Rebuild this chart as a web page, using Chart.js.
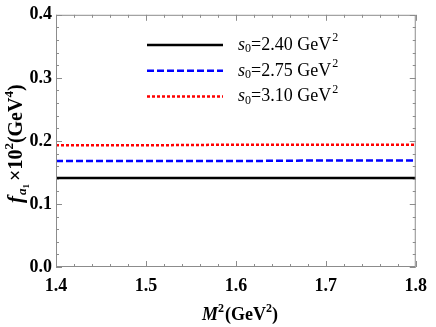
<!DOCTYPE html>
<html>
<head>
<meta charset="utf-8">
<script src="https://cdn.jsdelivr.net/npm/chart.js@4/dist/chart.umd.min.js"></script>
<style>
  html, body { margin: 0; padding: 0; background: #fff; }
  #wrap { width: 436px; height: 327px; }
</style>
</head>
<body>
<div id="wrap"><canvas id="chart" width="436" height="327"></canvas></div>
<script>
// values
var m2 = [1.4, 1.5, 1.6, 1.7, 1.8];
var s240 = [0.141, 0.141, 0.141, 0.141, 0.141];
var s275 = [0.168, 0.168, 0.168, 0.169, 0.169];
var s310 = [0.193, 0.193, 0.194, 0.194, 0.194];
var legendLabels = ["2.40", "2.75", "3.10"];

var SERIF = '"Liberation Serif", "DejaVu Serif", serif';

function pts(ys) {
  return m2.map(function(x, i) { return { x: x, y: ys[i] }; });
}

// draw a run of text pieces, each with its own font and vertical shift
function richText(ctx, x, y, parts) {
  parts.forEach(function(p) {
    ctx.font = p.font;
    ctx.fillText(p.t, x, y + (p.dy || 0));
    x += ctx.measureText(p.t).width + (p.kern || 0);
  });
  return x;
}

var framePlugin = {
  id: "frame",
  afterDatasetsDraw: function(chart) {
    var ctx = chart.ctx, a = chart.chartArea;
    var xs = chart.scales.x, ys = chart.scales.y;
    ctx.save();
    ctx.strokeStyle = "#8c8c8c";
    ctx.lineWidth = 1;
    ctx.strokeRect(a.left + 0.5, a.top + 0.5, a.right - a.left - 1, a.bottom - a.top - 1);

    // ticks pointing inward on all four sides
    ctx.beginPath();
    for (var i = 0; i <= 20; i++) {
      var v = 1.4 + i * 0.02;
      var px = Math.round(xs.getPixelForValue(v)) + 0.5;
      var len = (i % 5 === 0) ? 6 : 3;
      ctx.moveTo(px, a.bottom); ctx.lineTo(px, a.bottom - len);
      ctx.moveTo(px, a.top); ctx.lineTo(px, a.top + len);
    }
    for (var j = 0; j <= 20; j++) {
      var w = j * 0.02;
      var py = Math.round(ys.getPixelForValue(w)) + 0.5;
      var len2 = (j % 5 === 0) ? 6 : 3;
      ctx.moveTo(a.left, py); ctx.lineTo(a.left + len2, py);
      ctx.moveTo(a.right, py); ctx.lineTo(a.right - len2, py);
    }
    ctx.stroke();

    // legend inside the plot
    ctx.fillStyle = "#000";
    ctx.textBaseline = "middle";
    chart.data.datasets.forEach(function(ds, k) {
      var ly = 45 + k * 25.8;
      ctx.beginPath();
      ctx.strokeStyle = ds.borderColor;
      ctx.lineWidth = ds.borderWidth;
      ctx.setLineDash(ds.borderDash || []);
      ctx.moveTo(147, ly); ctx.lineTo(223, ly);
      ctx.stroke();
      ctx.setLineDash([]);
      var x = richText(ctx, 238, ly, [
        { t: "s", font: "italic 18px " + SERIF },
        { t: "0", font: "12px " + SERIF, dy: 4 },
        { t: "=" + legendLabels[k] + " GeV", font: "18px " + SERIF }
      ]);
      richText(ctx, x + 1, ly, [{ t: "2", font: "12px " + SERIF, dy: -7 }]);
    });

    // x axis title
    ctx.textBaseline = "alphabetic";
    richText(ctx, 202, 320, [
      { t: "M", font: "italic bold 18px " + SERIF },
      { t: "2", font: "bold 12px " + SERIF, dy: -8, kern: 1 },
      { t: "(GeV", font: "bold 18px " + SERIF },
      { t: "2", font: "bold 12px " + SERIF, dy: -8 },
      { t: ")", font: "bold 18px " + SERIF }
    ]);

    // y axis title, rotated
    ctx.translate(22, 203);
    ctx.rotate(-Math.PI / 2);
    richText(ctx, 0, 0, [
      { t: "f", font: "italic bold 21px " + SERIF, kern: 1 },
      { t: "a", font: "italic bold 13px " + SERIF, dy: 4 },
      { t: "1", font: "bold 9px " + SERIF, dy: 7, kern: 3 },
      { t: "\u00d710", font: "bold 20px " + SERIF },
      { t: "2", font: "bold 13px " + SERIF, dy: -9 },
      { t: "(GeV", font: "bold 20px " + SERIF },
      { t: "4", font: "bold 13px " + SERIF, dy: -9 },
      { t: ")", font: "bold 20px " + SERIF }
    ]);
    ctx.restore();
  }
};

new Chart(document.getElementById("chart"), {
  type: "line",
  data: {
    datasets: [
      { data: pts(s240), borderColor: "#000000", borderWidth: 2.5 },
      { data: pts(s275), borderColor: "#0000ff", borderWidth: 2.5, borderDash: [7, 3] },
      { data: pts(s310), borderColor: "#ff0000", borderWidth: 2.5, borderDash: [3, 2] }
    ]
  },
  options: {
    responsive: false,
    animation: false,
    devicePixelRatio: 1,
    layout: { padding: { left: 0, top: 13, right: 12, bottom: 0 } },
    elements: { point: { radius: 0 }, line: { tension: 0, fill: false } },
    plugins: { legend: { display: false }, tooltip: { enabled: false } },
    scales: {
      x: {
        type: "linear", min: 1.4, max: 1.8,
        afterFit: function(s) { s.height = 60; },
        grid: { display: false, drawTicks: false },
        border: { display: false },
        ticks: {
          stepSize: 0.1, padding: 9, color: "#000",
          font: { family: SERIF, size: 18, weight: "bold" },
          callback: function(v) { return Number(v).toFixed(1); }
        }
      },
      y: {
        min: 0, max: 0.4,
        afterFit: function(s) { s.width = 56; },
        grid: { display: false, drawTicks: false },
        border: { display: false },
        ticks: {
          stepSize: 0.1, padding: 4, color: "#000",
          font: { family: SERIF, size: 18, weight: "bold" },
          callback: function(v) { return Number(v).toFixed(1); }
        }
      }
    }
  },
  plugins: [framePlugin]
});
</script>
</body>
</html>
